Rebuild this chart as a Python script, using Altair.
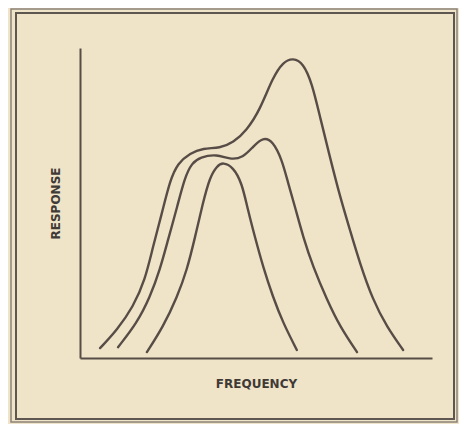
import altair as alt
import pandas as pd

# Curve A (widest, tallest)
a_freq = [5.7, 10.5, 15.1, 18.5, 20.7, 23.3, 25.6, 27.8, 31.3, 34.9, 39.8, 43.5, 47.4, 51.1, 54.8,
          57.7, 60.5, 63.4, 65.9, 68.2, 71.0, 73.9, 76.7, 79.5, 83.2, 87.2, 91.8]
a_resp = [3.2, 9.0, 16.5, 25.2, 35.8, 46.8, 57.4, 62.9, 66.1, 67.7, 67.7, 69.4, 73.5, 80.0, 90.6,
          95.5, 96.8, 95.2, 88.7, 77.7, 64.8, 51.9, 41.3, 30.6, 18.7, 10.0, 2.6]

# Curve B (middle, double hump)
b_freq = [10.8, 16.2, 19.9, 22.7, 25.0, 27.6, 29.8, 31.8, 34.1, 38.9, 42.6, 46.3, 49.1, 52.0,
          54.8, 57.4, 59.1, 61.1, 63.4, 66.2, 70.2, 73.9, 78.7]
b_resp = [3.5, 11.3, 19.7, 28.4, 38.1, 48.7, 58.4, 62.9, 64.8, 65.8, 64.0, 64.6, 68.1, 71.3,
          70.0, 63.9, 56.5, 48.7, 39.0, 29.4, 18.7, 10.0, 1.9]

# Curve C (narrow, single peak)
c_freq = [19.0, 23.6, 27.6, 30.4, 32.7, 34.9, 36.9, 38.9, 40.6, 43.5, 46.0, 47.7, 49.7, 52.0,
          54.8, 57.7, 61.6]
c_resp = [1.9, 10.0, 19.7, 28.4, 39.0, 50.0, 58.4, 61.9, 63.2, 61.6, 56.5, 47.7, 39.0, 29.4,
          19.7, 11.3, 2.6]

rows = []
for name, fx, ry in [("A", a_freq, a_resp), ("B", b_freq, b_resp), ("C", c_freq, c_resp)]:
    for f, r in zip(fx, ry):
        rows.append({"curve": name, "frequency": f, "response": r})
df = pd.DataFrame(rows)

INK = "#574d46"
BG = "#efe4c8"
FONT = "DejaVu Sans"

frame_df = pd.DataFrame({"k": [0]})

outer = alt.Chart(frame_df).mark_rect(
    fill=None, stroke="#8c8279", strokeWidth=1.5
).encode(
    x=alt.value(-69), x2=alt.value(377), y=alt.value(-39), y2=alt.value(374)
)
inner = alt.Chart(frame_df).mark_rect(
    fill=None, stroke="#5e5650", strokeWidth=2
).encode(
    x=alt.value(-64), x2=alt.value(374), y=alt.value(-35), y2=alt.value(371)
)

lines = alt.Chart(df).mark_line(
    color=INK, strokeWidth=2.4, interpolate="basis", strokeCap="round"
).encode(
    x=alt.X("frequency:Q", scale=alt.Scale(domain=[0, 100], nice=False),
            axis=alt.Axis(title="FREQUENCY", labels=False, ticks=False, grid=False,
                          domainColor=INK, domainWidth=2,
                          titleFont=FONT, titleFontSize=12, titleFontWeight="bold",
                          titleColor="#3f3a36", titlePadding=20)),
    y=alt.Y("response:Q", scale=alt.Scale(domain=[0, 100], nice=False),
            axis=alt.Axis(title="RESPONSE", labels=False, ticks=False, grid=False,
                          domainColor=INK, domainWidth=2,
                          titleFont=FONT, titleFontSize=12, titleFontWeight="bold",
                          titleColor="#3f3a36", titlePadding=18)),
    detail="curve:N",
)

chart = alt.layer(outer, inner, lines).properties(
    width=352, height=310,
    autosize=alt.AutoSizeParams(type="none"),
    padding={"left": 72, "top": 40, "right": 27, "bottom": 66},
    background=BG,
).configure_view(stroke=None)

chart.save("out.html", embed_options={"renderer": "svg", "actions": False})
